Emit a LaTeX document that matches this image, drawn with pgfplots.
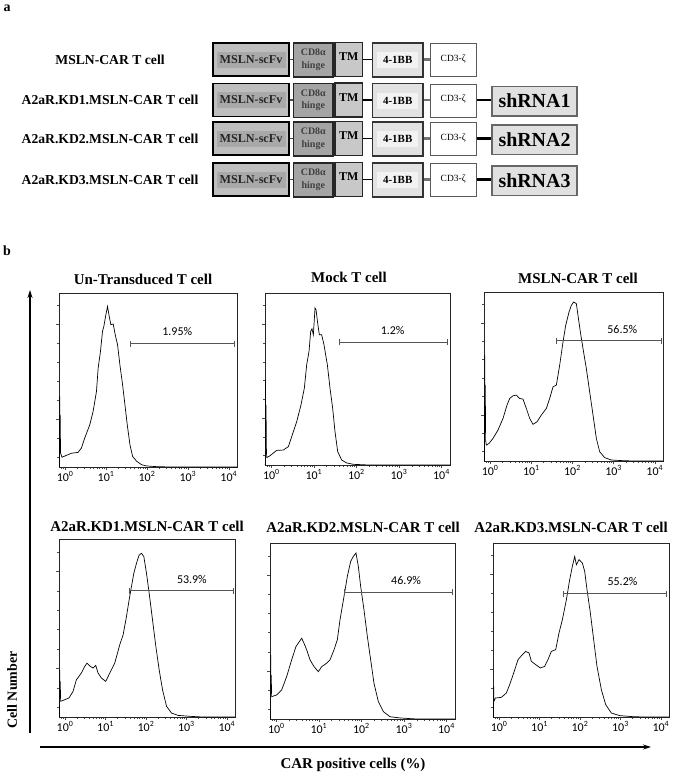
\documentclass[border=0pt]{standalone}
\usepackage{fontspec}
\setmainfont{Liberation Serif}
\newfontfamily\calfont{Carlito}
\usepackage{pgfplots}
\pgfplotsset{compat=1.18}
\usetikzlibrary{arrows.meta}

\definecolor{scfv}{HTML}{BEBEBE}
\definecolor{scfvin}{HTML}{A9A9A9}
\definecolor{cdeight}{HTML}{A4A4A4}
\definecolor{tmc}{HTML}{C8C8C8}
\definecolor{bbc}{HTML}{E2E2E2}
\definecolor{bbin}{HTML}{F2F2F2}
\definecolor{shc}{HTML}{E0E0E0}
\definecolor{gatec}{HTML}{555555}

\newcommand\fs[1]{\fontsize{#1}{#1}\selectfont}

\newcommand\construct[3]{%
\begin{scope}[yshift=-#1bp]
\node[font=\bfseries\fs{13.7}] at (110,-17.5) {#2};
\draw[black!70, line width=2pt] (289,-17.5) -- (294,-17.5);
\draw[black!60, line width=1pt] (333,-17.5) -- (336,-17.5);
\draw[black, line width=2pt] (362,-17.5) -- (373,-17.5);
\draw[black!55, line width=2.5pt] (423,-17.5) -- (430,-17.5);
\draw[line width=1.6pt, fill=scfv] (212.8,-0.8) rectangle (289.2,-34.2);
\fill[scfvin] (217,-9.5) rectangle (286,-25.5);
\node[font=\bfseries\fs{12.2}, text=black!85] at (251,-17.5) {MSLN-scFv};
\draw[line width=1.1pt, draw=black!85, fill=cdeight] (293.5,-1) rectangle (333,-35);
\node[font=\bfseries\fs{10}, text=black!75] at (313.3,-10.5) {CD8α};
\node[font=\bfseries\fs{10}, text=black!75] at (313.3,-24) {hinge};
\draw[line width=1.1pt, draw=black!85, fill=tmc] (335,-0.5) rectangle (362.5,-34.5);
\node[font=\bfseries\fs{12}] at (348.7,-15) {TM};
\draw[line width=1.1pt, draw=black!80, fill=bbc] (372.5,-1) rectangle (423,-35);
\fill[bbin] (377,-10) rectangle (418,-26);
\node[font=\bfseries\fs{11}] at (397.7,-18) {4-1BB};
\draw[line width=0.9pt, draw=black!65, fill=white] (430,-1.5) rectangle (476.5,-34.5);
\node[font=\fs{9.5}] at (453.2,-17) {CD3-ζ};
#3
\end{scope}}

\newcommand\shrna[1]{%
\draw[black, line width=3pt] (476.5,-17.5) -- (492,-17.5);
\draw[line width=1.3pt, draw=black!60, fill=shc] (492,-4) rectangle (577,-33.5);
\node[font=\bfseries\fs{20}] at (534.5,-18.5) {#1};}

\pgfplotsset{hist/.style={
  scale only axis, anchor=north west,
  xmin=-0.15, xmax=4.2, ymin=0, ymax=100,
  axis line style={black!85, line width=0.6pt},
  xtick={0,1,2,3,4},
  xticklabels={10\textsuperscript{0},10\textsuperscript{1},10\textsuperscript{2},10\textsuperscript{3},10\textsuperscript{4}},
  minor xtick={-0.097,-0.046,0.301,0.477,0.602,0.699,0.778,0.845,0.903,0.954,1.301,1.477,1.602,1.699,1.778,1.845,1.903,1.954,2.301,2.477,2.602,2.699,2.778,2.845,2.903,2.954,3.301,3.477,3.602,3.699,3.778,3.845,3.903,3.954},
  ytick={27.3,81.8}, minor ytick={5.5,16.4,38.2,49.1,60,70.9,92.7},
  yticklabels={},
  tick align=outside, xtick pos=bottom, ytick pos=left,
  major tick length=3bp, minor tick length=2bp,
  tick style={black!70, line width=0.5pt},
  xticklabel style={font=\calfont\fs{12}, inner sep=1.5pt},
  clip=false,
}}
\tikzset{curve/.style={black, line width=0.7pt, mark=none},
  gateline/.style={gatec, line width=0.8pt, mark=none, {Bar[width=6bp]-Bar[width=6bp]}},
  pct/.style={font=\calfont\fs{12}}}

\begin{document}
\begin{tikzpicture}[x=1bp,y=1bp]
\fill[white] (0,0) rectangle (680,-774);
\useasboundingbox (0,0) rectangle (680,-774);

% ---------- panel a ----------
\node[font=\bfseries\fs{14}] at (7,-8) {a};
\construct{42}{MSLN-CAR T cell}{}
\construct{82.5}{A2aR.KD1.MSLN-CAR T cell}{\shrna{shRNA1}}
\construct{121}{A2aR.KD2.MSLN-CAR T cell}{\shrna{shRNA2}}
\construct{162}{A2aR.KD3.MSLN-CAR T cell}{\shrna{shRNA3}}

% ---------- panel b ----------
\node[font=\bfseries\fs{14}] at (7,-251) {b};

\node[font=\bfseries\fs{15}] at (143,-279) {Un-Transduced T cell};
\node[font=\bfseries\fs{15}] at (349,-277) {Mock T cell};
\node[font=\bfseries\fs{15}] at (578,-278) {MSLN-CAR T cell};
\node[font=\bfseries\fs{15}] at (147,-526) {A2aR.KD1.MSLN-CAR T cell};
\node[font=\bfseries\fs{15}] at (363,-527) {A2aR.KD2.MSLN-CAR T cell};
\node[font=\bfseries\fs{15}] at (571,-527) {A2aR.KD3.MSLN-CAR T cell};

% P1
\begin{axis}[hist, at={(59bp,-293bp)}, width=178bp, height=174bp]
\addplot[curve] coordinates {(-0.15,0) (-0.138,0) (-0.134,40.6) (-0.128,22) (-0.122,30) (-0.112,8) (-0.076,5.6) (0.03,6.7) (0.153,7.9) (0.316,8.4) (0.398,10.9) (0.48,16.7) (0.602,24.3) (0.684,32) (0.766,43.5) (0.807,56.9) (0.864,66.5) (0.913,78) (0.946,80.8) (0.995,87.5) (1.036,92.3) (1.077,86.6) (1.117,81.8) (1.175,82.2) (1.224,76) (1.281,70.3) (1.338,58.8) (1.404,47.3) (1.461,35.8) (1.518,24.3) (1.584,12.8) (1.649,6.1) (1.747,3.3) (1.87,1.3) (1.992,0.6) (2.238,0.2) (2.6,0) (4.2,0)};
\addplot[gateline] coordinates {(1.584,70.9) (4.135,70.9)};
\node[pct] at (axis cs:2.74,78) {1.95\%};
\end{axis}

% P2
\begin{axis}[hist, at={(265bp,-293bp)}, width=185bp, height=172bp]
\addplot[curve] coordinates {(-0.15,0) (-0.142,0) (-0.138,49.5) (-0.132,20) (-0.126,35) (-0.118,10) (-0.11,4.3) (-0.032,5.4) (0.124,8.5) (0.281,8.7) (0.399,10.7) (0.477,16.5) (0.595,25.2) (0.697,35) (0.775,44.7) (0.83,58.3) (0.885,66) (0.924,77.7) (0.955,79.2) (0.987,75.7) (1.026,91.3) (1.05,90.3) (1.088,82.5) (1.128,75.7) (1.182,75.7) (1.237,69.9) (1.316,58.3) (1.378,44.7) (1.441,33) (1.496,19.4) (1.559,7.8) (1.653,2.9) (1.77,1.2) (1.927,0.4) (2.3,0) (4.2,0)};
\addplot[gateline] coordinates {(1.59,71.3) (4.137,71.3)};
\node[pct] at (axis cs:2.85,78.5) {1.2\%};
\end{axis}

% P3
\begin{axis}[hist, at={(484bp,-292bp)}, width=179bp, height=169bp]
\addplot[curve] coordinates {(-0.15,0) (-0.138,0) (-0.134,62.6) (-0.128,30) (-0.12,45) (-0.11,12) (-0.093,9.4) (-0.028,10.4) (0.069,13.4) (0.19,18.3) (0.312,25.2) (0.409,33.1) (0.474,37) (0.555,38.6) (0.636,39) (0.717,37) (0.798,36.6) (0.879,31.1) (0.96,25.2) (1.04,21.7) (1.138,23.2) (1.243,27.2) (1.365,31.1) (1.446,37) (1.527,43.9) (1.608,44.9) (1.689,56.7) (1.77,70.5) (1.835,80.3) (1.916,88.2) (1.972,92.1) (2.029,94.1) (2.094,93.1) (2.134,86.2) (2.191,76.4) (2.256,66.5) (2.337,54.7) (2.418,40.9) (2.499,27.2) (2.58,13.4) (2.661,5.5) (2.782,2) (2.944,0.6) (3.228,0.2) (3.5,0) (4.2,0)};
\addplot[gateline] coordinates {(1.59,71.1) (4.16,71.1)};
\node[pct] at (axis cs:3.21,78) {56.5\%};
\end{axis}

% P4
\begin{axis}[hist, at={(59bp,-539bp)}, width=176bp, height=178bp]
\addplot[curve] coordinates {(-0.15,0) (-0.136,0) (-0.133,26.5) (-0.127,12) (-0.12,20) (-0.109,8.8) (-0.01,9.7) (0.098,10.7) (0.197,14.4) (0.279,20.9) (0.403,24.7) (0.486,28.4) (0.543,30.3) (0.626,28.4) (0.692,27.5) (0.758,29) (0.816,24.7) (0.898,21.9) (1.006,20) (1.105,24.7) (1.228,30.3) (1.352,40.6) (1.435,46.2) (1.517,56.4) (1.583,65.8) (1.641,73.3) (1.699,80.7) (1.765,86.4) (1.831,91) (1.889,92) (1.947,90.1) (2.013,80.7) (2.079,69.5) (2.161,54.6) (2.244,39.6) (2.326,26.5) (2.409,15.3) (2.508,6) (2.632,2.2) (2.797,0.9) (3.086,0.4) (3.4,0) (4.2,0)};
\addplot[gateline] coordinates {(1.583,71) (4.159,71)};
\node[pct] at (axis cs:3.135,77.5) {53.9\%};
\end{axis}

% P5
\begin{axis}[hist, at={(270bp,-543bp)}, width=185bp, height=176bp]
\addplot[curve] coordinates {(-0.15,0) (-0.136,0) (-0.134,36.4) (-0.128,15) (-0.122,25) (-0.111,12.7) (0.007,13.7) (0.124,16.5) (0.242,24.1) (0.359,33.6) (0.461,41.2) (0.54,44) (0.595,45.9) (0.649,43.1) (0.712,39.3) (0.791,33.6) (0.885,29.8) (0.987,26.9) (1.065,29.8) (1.182,31.7) (1.261,33.6) (1.355,39.3) (1.433,45) (1.496,56.4) (1.59,69.6) (1.668,81) (1.747,89.6) (1.81,92.4) (1.872,94.3) (1.927,86.7) (1.982,75.3) (2.06,62) (2.139,46.9) (2.217,33.6) (2.295,20.3) (2.397,9.9) (2.515,4.2) (2.672,1.3) (2.907,0.6) (3.3,0) (4.2,0)};
\addplot[gateline] coordinates {(1.59,71.9) (4.145,71.9)};
\node[pct] at (axis cs:3.05,78.7) {46.9\%};
\end{axis}

% P6
\begin{axis}[hist, at={(493bp,-543bp)}, width=176bp, height=174bp]
\addplot[curve] coordinates {(-0.15,0) (-0.137,0) (-0.134,17.6) (-0.128,9) (-0.092,10.9) (0.056,11.3) (0.18,13.8) (0.262,18.6) (0.361,25.3) (0.468,33) (0.575,35.8) (0.657,37.7) (0.74,36.8) (0.797,32) (0.905,30.1) (1.02,28.2) (1.127,29.1) (1.209,33) (1.292,37.7) (1.399,38.7) (1.481,48.3) (1.564,55.9) (1.663,67.4) (1.745,78.9) (1.811,86.6) (1.869,92.3) (1.91,87.5) (1.976,90.4) (2.058,88.5) (2.116,83.7) (2.173,73.2) (2.256,59.8) (2.338,44.4) (2.42,29.1) (2.528,15.7) (2.635,7.1) (2.775,2.3) (2.981,0.8) (3.31,0.2) (3.6,0) (4.2,0)};
\addplot[gateline] coordinates {(1.58,70.9) (4.15,70.9)};
\node[pct] at (axis cs:3.05,77.7) {55.2\%};
\end{axis}

% outer axes
\draw[line width=1.1pt, -{Stealth[length=8bp,width=5bp]}] (30,-733) -- (30,-290);
\draw[line width=1.1pt, -{Stealth[length=8bp,width=5bp]}] (40,-747) -- (651,-747);
\node[font=\bfseries\fs{14}, rotate=90] at (12,-690) {Cell Number};
\node[font=\bfseries\fs{15}] at (353,-765) {CAR positive cells (\%)};
\end{tikzpicture}
\end{document}
